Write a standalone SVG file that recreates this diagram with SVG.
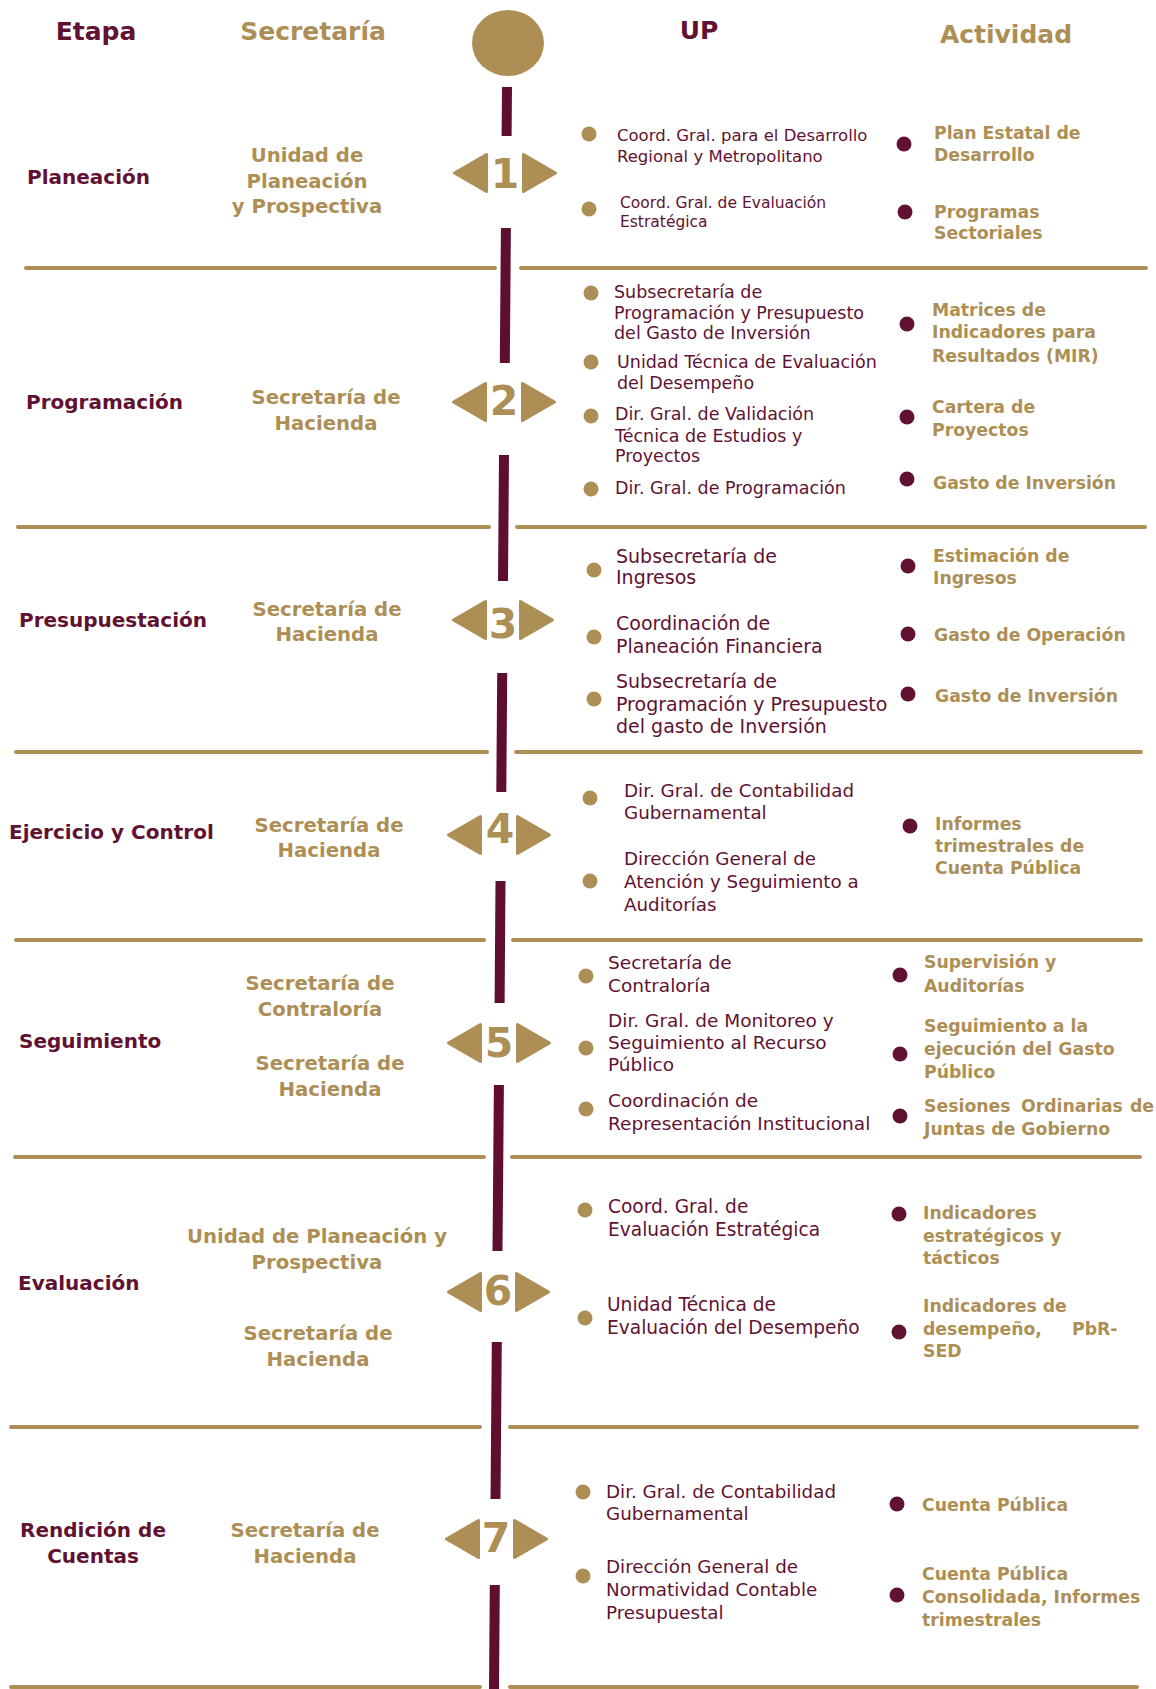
<svg xmlns="http://www.w3.org/2000/svg" width="1156" height="1689" viewBox="0 0 1156 1689">
<style>
text{font-family:"DejaVu Sans","Open Sans",sans-serif}
.hd{font-size:25px;font-weight:bold}
.mr{fill:#611232}
.gd{fill:#AD8F56}
.et{font-size:20px;font-weight:bold;fill:#611232}
.sc{font-size:19.7px;font-weight:bold;fill:#AD8F56;text-anchor:middle}
.up{fill:#611232}
.ac{font-size:17.3px;font-weight:bold;fill:#AD8F56}
.num{font-size:41px;font-weight:bold;fill:#AD8F56;text-anchor:middle}
.bu{fill:#AD8F56}
.ba{fill:#611232}
.tri{fill:#AD8F56;stroke:#AD8F56;stroke-width:3;stroke-linejoin:round}
.sep{stroke:#AD8F56;stroke-width:4;stroke-linecap:round;fill:none}
.vl{stroke:#5E0F30;stroke-width:10;fill:none}
</style>
<defs>
<path id="tl" class="tri" d="M1.5,0 L33.5,-18.5 L33.5,18.5 Z"/>
<path id="tr" class="tri" d="M33.5,0 L1.5,-18.5 L1.5,18.5 Z"/>
</defs>
<rect width="1156" height="1689" fill="#ffffff"/>

<g id="header">
<text class="hd mr" x="96" y="40" text-anchor="middle">Etapa</text>
<text class="hd gd" x="313" y="40" text-anchor="middle">Secretaría</text>
<ellipse class="gd" cx="508" cy="43" rx="36" ry="33"/>
<text class="hd mr" x="699" y="39" text-anchor="middle">UP</text>
<text class="hd gd" x="1006" y="43" text-anchor="middle">Actividad</text>
</g>

<g id="separators">
<line class="sep" x1="26" y1="268" x2="495" y2="268"/><line class="sep" x1="521" y1="268" x2="1146" y2="268"/>
<line class="sep" x1="18" y1="527" x2="489" y2="527"/><line class="sep" x1="517" y1="527" x2="1145" y2="527"/>
<line class="sep" x1="16" y1="752" x2="487" y2="752"/><line class="sep" x1="516" y1="752" x2="1141" y2="752"/>
<line class="sep" x1="16" y1="940" x2="484" y2="940"/><line class="sep" x1="513" y1="940" x2="1141" y2="940"/>
<line class="sep" x1="15" y1="1157" x2="484" y2="1157"/><line class="sep" x1="512" y1="1157" x2="1140" y2="1157"/>
<line class="sep" x1="11" y1="1427" x2="480" y2="1427"/><line class="sep" x1="510" y1="1427" x2="1137" y2="1427"/>
<line class="sep" x1="11" y1="1687" x2="480" y2="1687"/><line class="sep" x1="510" y1="1687" x2="1137" y2="1687"/>
</g>

<g id="connectors">
<line class="vl" x1="507" y1="87" x2="506.6" y2="136"/>
<line class="vl" x1="505.9" y1="228" x2="504.8" y2="363"/>
<line class="vl" x1="504" y1="455" x2="503" y2="581"/>
<line class="vl" x1="502.2" y1="673" x2="501.3" y2="792"/>
<line class="vl" x1="500.5" y1="881" x2="499.6" y2="1003"/>
<line class="vl" x1="498.9" y1="1085" x2="497.5" y2="1251"/>
<line class="vl" x1="496.8" y1="1342" x2="495.5" y2="1499"/>
<line class="vl" x1="494.8" y1="1585" x2="494" y2="1689"/>
</g>

<!-- Row 1 -->
<g id="etapa-1"><text class="et" x="27" y="184">Planeación</text></g>
<g id="sec-1"><text class="sc"><tspan x="307" y="162">Unidad de</tspan><tspan x="307" y="188">Planeación</tspan><tspan x="307" y="213">y Prospectiva</tspan></text></g>
<g id="badge-1"><use href="#tl" x="453" y="173"/><use href="#tr" x="522" y="173"/><text class="num" x="505" y="188">1</text></g>
<g id="up-1a"><circle class="bu" cx="589" cy="134" r="7.5"/><text class="up" font-size="16.5"><tspan x="617" y="141">Coord. Gral. para el Desarrollo</tspan><tspan x="617" y="162">Regional y Metropolitano</tspan></text></g>
<g id="up-1b"><circle class="bu" cx="589" cy="209" r="7.5"/><text class="up" font-size="15.5"><tspan x="620" y="208">Coord. Gral. de Evaluación</tspan><tspan x="620" y="227">Estratégica</tspan></text></g>
<g id="act-1a"><circle class="ba" cx="904" cy="144" r="7.5"/><text class="ac"><tspan x="934" y="139">Plan Estatal de</tspan><tspan x="934" y="161">Desarrollo</tspan></text></g>
<g id="act-1b"><circle class="ba" cx="905" cy="212" r="7.5"/><text class="ac"><tspan x="934" y="218">Programas</tspan><tspan x="934" y="239">Sectoriales</tspan></text></g>

<!-- Row 2 -->
<g id="etapa-2"><text class="et" x="26" y="409">Programación</text></g>
<g id="sec-2"><text class="sc"><tspan x="326" y="404">Secretaría de</tspan><tspan x="326" y="430">Hacienda</tspan></text></g>
<g id="badge-2"><use href="#tl" x="452" y="402"/><use href="#tr" x="521" y="402"/><text class="num" x="504" y="415">2</text></g>
<g id="up-2a"><circle class="bu" cx="591" cy="293" r="7.5"/><text class="up" font-size="17.5"><tspan x="614" y="298">Subsecretaría de</tspan><tspan x="614" y="319">Programación y Presupuesto</tspan><tspan x="614" y="339">del Gasto de Inversión</tspan></text></g>
<g id="up-2b"><circle class="bu" cx="591" cy="362" r="7.5"/><text class="up" font-size="17.5"><tspan x="617" y="368">Unidad Técnica de Evaluación</tspan><tspan x="617" y="389">del Desempeño</tspan></text></g>
<g id="up-2c"><circle class="bu" cx="591" cy="416" r="7.5"/><text class="up" font-size="17.5"><tspan x="615" y="420">Dir. Gral. de Validación</tspan><tspan x="615" y="442">Técnica de Estudios y</tspan><tspan x="615" y="462">Proyectos</tspan></text></g>
<g id="up-2d"><circle class="bu" cx="591" cy="489" r="7.5"/><text class="up" font-size="17.5"><tspan x="615" y="494">Dir. Gral. de Programación</tspan></text></g>
<g id="act-2a"><circle class="ba" cx="907" cy="324" r="7.5"/><text class="ac"><tspan x="932" y="316">Matrices de</tspan><tspan x="932" y="338">Indicadores para</tspan><tspan x="932" y="362">Resultados (MIR)</tspan></text></g>
<g id="act-2b"><circle class="ba" cx="907" cy="417" r="7.5"/><text class="ac"><tspan x="932" y="413">Cartera de</tspan><tspan x="932" y="436">Proyectos</tspan></text></g>
<g id="act-2c"><circle class="ba" cx="907" cy="479" r="7.5"/><text class="ac"><tspan x="933" y="489">Gasto de Inversión</tspan></text></g>

<!-- Row 3 -->
<g id="etapa-3"><text class="et" x="19" y="627">Presupuestación</text></g>
<g id="sec-3"><text class="sc"><tspan x="327" y="616">Secretaría de</tspan><tspan x="327" y="641">Hacienda</tspan></text></g>
<g id="badge-3"><use href="#tl" x="452" y="620"/><use href="#tr" x="519" y="620"/><text class="num" x="503" y="638">3</text></g>
<g id="up-3a"><circle class="bu" cx="594" cy="570" r="7.5"/><text class="up" font-size="19"><tspan x="616" y="563">Subsecretaría de</tspan><tspan x="616" y="584">Ingresos</tspan></text></g>
<g id="up-3b"><circle class="bu" cx="594" cy="637" r="7.5"/><text class="up" font-size="19"><tspan x="616" y="630">Coordinación de</tspan><tspan x="616" y="653">Planeación Financiera</tspan></text></g>
<g id="up-3c"><circle class="bu" cx="594" cy="699" r="7.5"/><text class="up" font-size="19"><tspan x="616" y="688">Subsecretaría de</tspan><tspan x="616" y="711">Programación y Presupuesto</tspan><tspan x="616" y="733">del gasto de Inversión</tspan></text></g>
<g id="act-3a"><circle class="ba" cx="908" cy="566" r="7.5"/><text class="ac"><tspan x="933" y="562">Estimación de</tspan><tspan x="933" y="584">Ingresos</tspan></text></g>
<g id="act-3b"><circle class="ba" cx="908" cy="634" r="7.5"/><text class="ac"><tspan x="934" y="641">Gasto de Operación</tspan></text></g>
<g id="act-3c"><circle class="ba" cx="908" cy="694" r="7.5"/><text class="ac"><tspan x="935" y="702">Gasto de Inversión</tspan></text></g>

<!-- Row 4 -->
<g id="etapa-4"><text class="et" x="9" y="839">Ejercicio y Control</text></g>
<g id="sec-4"><text class="sc"><tspan x="329" y="832">Secretaría de</tspan><tspan x="329" y="857">Hacienda</tspan></text></g>
<g id="badge-4"><use href="#tl" x="447" y="835"/><use href="#tr" x="516" y="835"/><text class="num" x="500" y="843">4</text></g>
<g id="up-4a"><circle class="bu" cx="590" cy="798" r="7.5"/><text class="up" font-size="18.3"><tspan x="624" y="797">Dir. Gral. de Contabilidad</tspan><tspan x="624" y="819">Gubernamental</tspan></text></g>
<g id="up-4b"><circle class="bu" cx="590" cy="881" r="7.5"/><text class="up" font-size="18.3"><tspan x="624" y="865">Dirección General de</tspan><tspan x="624" y="888">Atención y Seguimiento a</tspan><tspan x="624" y="911">Auditorías</tspan></text></g>
<g id="act-4a"><circle class="ba" cx="910" cy="826" r="7.5"/><text class="ac"><tspan x="935" y="830">Informes</tspan><tspan x="935" y="852">trimestrales de</tspan><tspan x="935" y="874">Cuenta Pública</tspan></text></g>

<!-- Row 5 -->
<g id="etapa-5"><text class="et" x="19" y="1048">Seguimiento</text></g>
<g id="sec-5a"><text class="sc"><tspan x="320" y="990">Secretaría de</tspan><tspan x="320" y="1016">Contraloría</tspan></text></g>
<g id="sec-5b"><text class="sc"><tspan x="330" y="1070">Secretaría de</tspan><tspan x="330" y="1096">Hacienda</tspan></text></g>
<g id="badge-5"><use href="#tl" x="447" y="1043"/><use href="#tr" x="516" y="1043"/><text class="num" x="499" y="1057">5</text></g>
<g id="up-5a"><circle class="bu" cx="586" cy="976" r="7.5"/><text class="up" font-size="18.5"><tspan x="608" y="969">Secretaría de</tspan><tspan x="608" y="992">Contraloría</tspan></text></g>
<g id="up-5b"><circle class="bu" cx="586" cy="1048" r="7.5"/><text class="up" font-size="18.5"><tspan x="608" y="1027">Dir. Gral. de Monitoreo y</tspan><tspan x="608" y="1049">Seguimiento al Recurso</tspan><tspan x="608" y="1071">Público</tspan></text></g>
<g id="up-5c"><circle class="bu" cx="586" cy="1109" r="7.5"/><text class="up" font-size="18.5"><tspan x="608" y="1107">Coordinación de</tspan><tspan x="608" y="1130">Representación Institucional</tspan></text></g>
<g id="act-5a"><circle class="ba" cx="900" cy="975" r="7.5"/><text class="ac"><tspan x="924" y="968">Supervisión y</tspan><tspan x="924" y="992">Auditorías</tspan></text></g>
<g id="act-5b"><circle class="ba" cx="900" cy="1054" r="7.5"/><text class="ac"><tspan x="924" y="1032">Seguimiento a la</tspan><tspan x="924" y="1055">ejecución del Gasto</tspan><tspan x="924" y="1078">Público</tspan></text></g>
<g id="act-5c"><circle class="ba" cx="900" cy="1116" r="7.5"/><text class="ac"><tspan x="924" y="1112">Sesiones</tspan><tspan x="1021" y="1112">Ordinarias</tspan><tspan x="1130" y="1112">de</tspan><tspan x="924" y="1135">Juntas de Gobierno</tspan></text></g>

<!-- Row 6 -->
<g id="etapa-6"><text class="et" x="18" y="1290">Evaluación</text></g>
<g id="sec-6a"><text class="sc"><tspan x="317" y="1243">Unidad de Planeación y</tspan><tspan x="317" y="1269">Prospectiva</tspan></text></g>
<g id="sec-6b"><text class="sc"><tspan x="318" y="1340">Secretaría de</tspan><tspan x="318" y="1366">Hacienda</tspan></text></g>
<g id="badge-6"><use href="#tl" x="447" y="1292"/><use href="#tr" x="515" y="1292"/><text class="num" x="498" y="1305">6</text></g>
<g id="up-6a"><circle class="bu" cx="585" cy="1210" r="7.5"/><text class="up" font-size="18.6"><tspan x="608" y="1213">Coord. Gral. de</tspan><tspan x="608" y="1236">Evaluación Estratégica</tspan></text></g>
<g id="up-6b"><circle class="bu" cx="585" cy="1318" r="7.5"/><text class="up" font-size="18.6"><tspan x="607" y="1311">Unidad Técnica de</tspan><tspan x="607" y="1334">Evaluación del Desempeño</tspan></text></g>
<g id="act-6a"><circle class="ba" cx="899" cy="1214" r="7.5"/><text class="ac"><tspan x="923" y="1219">Indicadores</tspan><tspan x="923" y="1242">estratégicos y</tspan><tspan x="923" y="1264">tácticos</tspan></text></g>
<g id="act-6b"><circle class="ba" cx="899" cy="1332" r="7.5"/><text class="ac"><tspan x="923" y="1312">Indicadores de</tspan><tspan x="923" y="1335">desempeño,</tspan><tspan x="1072" y="1335">PbR-</tspan><tspan x="923" y="1357">SED</tspan></text></g>

<!-- Row 7 -->
<g id="etapa-7"><text class="et" text-anchor="middle"><tspan x="93" y="1537">Rendición de</tspan><tspan x="93" y="1563">Cuentas</tspan></text></g>
<g id="sec-7"><text class="sc"><tspan x="305" y="1537">Secretaría de</tspan><tspan x="305" y="1563">Hacienda</tspan></text></g>
<g id="badge-7"><use href="#tl" x="445" y="1539"/><use href="#tr" x="513" y="1539"/><text class="num" x="496" y="1552">7</text></g>
<g id="up-7a"><circle class="bu" cx="583" cy="1492" r="7.5"/><text class="up" font-size="18.3"><tspan x="606" y="1498">Dir. Gral. de Contabilidad</tspan><tspan x="606" y="1520">Gubernamental</tspan></text></g>
<g id="up-7b"><circle class="bu" cx="583" cy="1576" r="7.5"/><text class="up" font-size="18.3"><tspan x="606" y="1573">Dirección General de</tspan><tspan x="606" y="1596">Normatividad Contable</tspan><tspan x="606" y="1619">Presupuestal</tspan></text></g>
<g id="act-7a"><circle class="ba" cx="897" cy="1504" r="7.5"/><text class="ac"><tspan x="922" y="1511">Cuenta Pública</tspan></text></g>
<g id="act-7b"><circle class="ba" cx="897" cy="1595" r="7.5"/><text class="ac"><tspan x="922" y="1580">Cuenta Pública</tspan><tspan x="922" y="1603">Consolidada, Informes</tspan><tspan x="922" y="1626">trimestrales</tspan></text></g>
</svg>
